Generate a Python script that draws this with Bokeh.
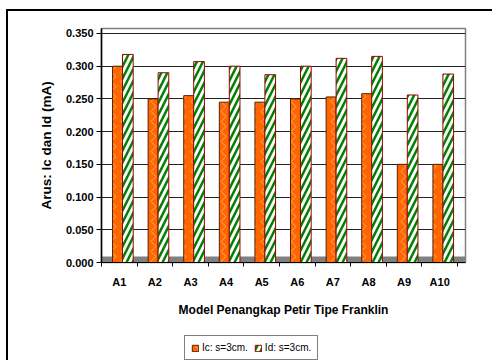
from bokeh.plotting import figure
from bokeh.models import (ColumnDataSource, Range1d, FixedTicker, NumeralTickFormatter,
                          Legend, LegendItem, BoxAnnotation)
from bokeh.layouts import column
from bokeh.embed import file_html
from bokeh.resources import INLINE

categories = ["A1", "A2", "A3", "A4", "A5", "A6", "A7", "A8", "A9", "A10"]
ic_values = [0.300, 0.250, 0.255, 0.245, 0.245, 0.250, 0.253, 0.258, 0.150, 0.150]
id_values = [0.318, 0.290, 0.307, 0.300, 0.287, 0.300, 0.312, 0.315, 0.256, 0.288]
y_ticks = [0.0, 0.05, 0.10, 0.15, 0.20, 0.25, 0.30, 0.35]
series_labels = ["Ic: s=3cm.", "Id: s=3cm."]
x_title = "Model Penangkap Petir Tipe Franklin"
y_title = "Arus: Ic dan Id (mA)"

IC_STYLE = dict(fill_color="#FF6600", line_color="#552200", line_width=1,
                hatch_pattern="vertical_wave", hatch_color="#FFD9B0", hatch_alpha=0.6,
                hatch_weight=1, hatch_scale=10)
ID_STYLE = dict(fill_color="white", line_color="#990000", line_width=1,
                hatch_pattern="right_diagonal_line", hatch_color="#008000",
                hatch_weight=2.5, hatch_scale=12)

idx = list(range(len(categories)))
src = ColumnDataSource(dict(
    x_ic=[i + 0.45 for i in idx],
    x_id=[i + 0.74 for i in idx],
    ic=ic_values,
    idv=id_values,
))

p = figure(width=484, height=320, output_backend="svg", toolbar_location=None,
           x_range=Range1d(0, 10.225), y_range=Range1d(0, 0.3576),
           min_border_left=93, min_border_right=27, min_border_top=17, min_border_bottom=69)

p.outline_line_color = "#808080"
p.outline_line_width = 1.5
p.background_fill_color = "white"
p.border_fill_color = "white"

floor = BoxAnnotation(bottom=0, top=0.009, fill_color="#808080", fill_alpha=1.0,
                      line_alpha=0, level="underlay")
p.add_layout(floor)

r_ic = p.vbar(x="x_ic", top="ic", width=0.28, bottom=0, source=src, **IC_STYLE)
r_id = p.vbar(x="x_id", top="idv", width=0.30, bottom=0, source=src, **ID_STYLE)

# Y axis
p.yaxis.ticker = FixedTicker(ticks=y_ticks)
p.yaxis.formatter = NumeralTickFormatter(format="0.000")
p.yaxis.major_label_text_font = "Liberation Sans"
p.yaxis.major_label_text_font_style = "bold"
p.yaxis.major_label_text_font_size = "11px"
p.yaxis.major_label_text_color = "black"
p.yaxis.major_tick_out = 5
p.yaxis.major_tick_in = 0
p.yaxis.minor_tick_out = 0
p.yaxis.minor_tick_in = 0
p.yaxis.axis_line_color = "black"
p.yaxis.axis_line_width = 1.5
p.yaxis.major_label_standoff = 3
p.yaxis.axis_label = y_title
p.yaxis.axis_label_text_font = "Liberation Sans"
p.yaxis.axis_label_text_font_style = "bold"
p.yaxis.axis_label_text_font_size = "13.5px"
p.yaxis.axis_label_text_color = "black"
p.yaxis.axis_label_standoff = 9

# X axis
p.xaxis.ticker = FixedTicker(ticks=[i + 0.5 for i in idx], minor_ticks=list(range(len(categories) + 1)))
p.xaxis.major_label_overrides = {i + 0.5: c for i, c in zip(idx, categories)}
p.xaxis.major_tick_out = 0
p.xaxis.major_tick_in = 0
p.xaxis.minor_tick_out = 4
p.xaxis.minor_tick_in = 0
p.xaxis.minor_tick_line_color = "black"
p.xaxis.axis_line_color = "black"
p.xaxis.major_label_text_font = "Liberation Sans"
p.xaxis.major_label_text_font_style = "bold"
p.xaxis.major_label_text_font_size = "11px"
p.xaxis.major_label_text_color = "black"
p.xaxis.major_label_standoff = 9
p.xaxis.axis_label = x_title
p.xaxis.axis_label_text_font = "Liberation Sans"
p.xaxis.axis_label_text_font_style = "bold"
p.xaxis.axis_label_text_font_size = "12px"
p.xaxis.axis_label_text_color = "black"
p.xaxis.axis_label_standoff = 12

p.xgrid.grid_line_color = None
p.ygrid.ticker = FixedTicker(ticks=y_ticks)
p.ygrid.grid_line_color = "#222222"
p.ygrid.grid_line_width = 1

# Legend strip below the chart (its ranges keep the series out of view)
lg = figure(width=484, height=29, output_backend="svg", toolbar_location=None,
            x_range=Range1d(100, 101), y_range=Range1d(100, 101),
            min_border=0, min_border_left=0, min_border_right=0,
            min_border_top=0, min_border_bottom=0)
lg.axis.visible = False
lg.grid.visible = False
lg.outline_line_color = None
lg.border_fill_color = "white"
l_ic = lg.vbar(x="x_ic", top="ic", width=0.28, source=src, **IC_STYLE)
l_id = lg.vbar(x="x_id", top="idv", width=0.30, source=src, **ID_STYLE)

legend = Legend(items=[LegendItem(label=series_labels[0], renderers=[l_ic]),
                       LegendItem(label=series_labels[1], renderers=[l_id])],
                orientation="horizontal", location=(83, 0))
legend.label_text_font = "Liberation Sans"
legend.label_text_font_size = "10px"
legend.label_text_color = "black"
legend.glyph_width = 8
legend.glyph_height = 8
legend.label_standoff = 3
legend.spacing = 6
legend.padding = 6
legend.margin = 0
legend.border_line_color = "black"
legend.border_line_width = 1
legend.background_fill_alpha = 1
legend.label_height = 10
lg.add_layout(legend, "center")

layout = column(p, lg, spacing=0)
layout.styles = {"border-left": "2px solid black", "border-top": "2px solid black",
                 "margin-left": "6px", "margin-top": "9px"}

open("out.html", "w").write(file_html(layout, INLINE))
